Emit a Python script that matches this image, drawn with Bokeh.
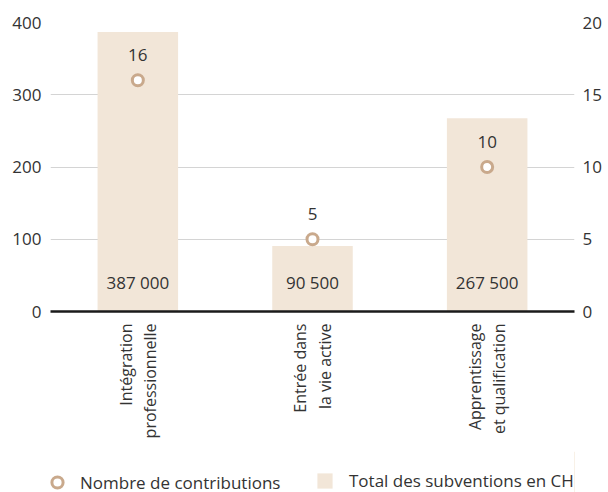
import math
from bokeh.plotting import figure
from bokeh.layouts import column
from bokeh.models import Range1d, LinearAxis, Legend, LegendItem, ColumnDataSource, FixedTicker
from bokeh.core.properties import value
from bokeh.embed import file_html
from bokeh.resources import INLINE

categories = ["Intégration\nprofessionnelle", "Entrée dans\nla vie active", "Apprentissage\net qualification"]
subventions_chf = [387000, 90500, 267500]
contributions = [16, 5, 10]
left_ticks = [0, 100, 200, 300, 400]
right_ticks = [0, 5, 10, 15, 20]
legend_labels = ["Nombre de contributions", "Total des subventions en CHF"]

FONT = "Open Sans"
TXT = "#333333"
BAR = "#f2e6d8"
DOT = "#c9a98c"
FS = "17px"

src = ColumnDataSource(dict(
    cat=categories,
    sub_k=[v / 1000 for v in subventions_chf],
    sub_lbl=[f"{v:,}".replace(",", " ") for v in subventions_chf],
    cnt=contributions,
    cnt_lbl=[str(c) for c in contributions],
    zero=[0] * len(categories),
))

p = figure(x_range=categories, y_range=Range1d(0, 400), width=604, height=451,
           output_backend="svg", toolbar_location=None,
           min_border_left=50, min_border_right=27, min_border_top=22, min_border_bottom=140)
p.extra_y_ranges = {"right": Range1d(0, 20)}
p.outline_line_color = None
p.background_fill_color = "white"

p.vbar(x="cat", top="sub_k", width=0.461, source=src, fill_color=BAR, line_color=None)
p.scatter(x="cat", y="cnt", y_range_name="right", source=src, size=11,
          fill_color="white", line_color=DOT, line_width=3)

p.text(x="cat", y="zero", text="sub_lbl", source=src, y_offset=-29, text_align="center",
       text_baseline="middle", text_font=value(FONT), text_font_size=FS, text_color=TXT)
p.text(x="cat", y="cnt", text="cnt_lbl", source=src, y_range_name="right", y_offset=-25,
       text_align="center", text_baseline="middle", text_font=value(FONT),
       text_font_size=FS, text_color=TXT)

# axes
yl = p.yaxis[0]
yl.ticker = FixedTicker(ticks=left_ticks)
yl.major_label_standoff = 9
ra = LinearAxis(y_range_name="right", ticker=FixedTicker(ticks=right_ticks))
ra.major_label_standoff = 8
p.add_layout(ra, "right")
for ax in (yl, ra):
    ax.axis_line_color = None
    ax.major_tick_line_color = None
    ax.minor_tick_line_color = None
    ax.major_tick_in = 0
    ax.major_tick_out = 0
    ax.major_label_text_font = FONT
    ax.major_label_text_font_size = FS
    ax.major_label_text_color = TXT

xa = p.xaxis[0]
xa.axis_line_color = "#1a1a1a"
xa.axis_line_width = 2.5
xa.major_tick_line_color = None
xa.minor_tick_line_color = None
xa.major_tick_in = 0
xa.major_tick_out = 0
xa.major_label_orientation = math.pi / 2
xa.major_label_text_font = FONT
xa.major_label_text_font_size = "16px"
xa.major_label_text_line_height = 1.1
xa.major_label_text_color = TXT
xa.major_label_standoff = 12

p.xgrid.grid_line_color = None
p.ygrid.grid_line_color = "#d4d4d4"
p.ygrid.ticker = FixedTicker(ticks=left_ticks)

# legend strip below the chart (its renderers lie outside its visible ranges)
lf = figure(width=604, height=41, x_range=Range1d(0, 1), y_range=Range1d(0, 1),
            x_axis_type=None, y_axis_type=None, output_backend="svg", toolbar_location=None,
            min_border_left=50, min_border_right=27, min_border_top=0, min_border_bottom=0)
lf.outline_line_color = None
r_dot = lf.scatter(x="cnt", y="cnt", source=src, size=11, fill_color="white",
                   line_color=DOT, line_width=3)
r_bar = lf.vbar(x="cnt", top="cnt", width=0.1, source=src, fill_color=BAR, line_color=None)

common = dict(orientation="horizontal", border_line_color=None, background_fill_alpha=0,
              label_text_font=FONT, label_text_font_size=FS, label_text_color=TXT,
              padding=0, margin=0, spacing=0)
leg1 = Legend(items=[LegendItem(label=legend_labels[0], renderers=[r_dot], index=0)],
              location=(-7, -4), glyph_width=28, glyph_height=28, label_height=28,
              label_standoff=9, **common)
leg2 = Legend(items=[LegendItem(label=legend_labels[1], renderers=[r_bar], index=0)],
              location=(265, 0), glyph_width=19, glyph_height=19, label_height=19,
              label_standoff=15, **common)
lf.add_layout(leg1, "center")
lf.add_layout(leg2, "center")

layout = column(p, lf, spacing=0)
open("out.html", "w").write(file_html(layout, INLINE))
